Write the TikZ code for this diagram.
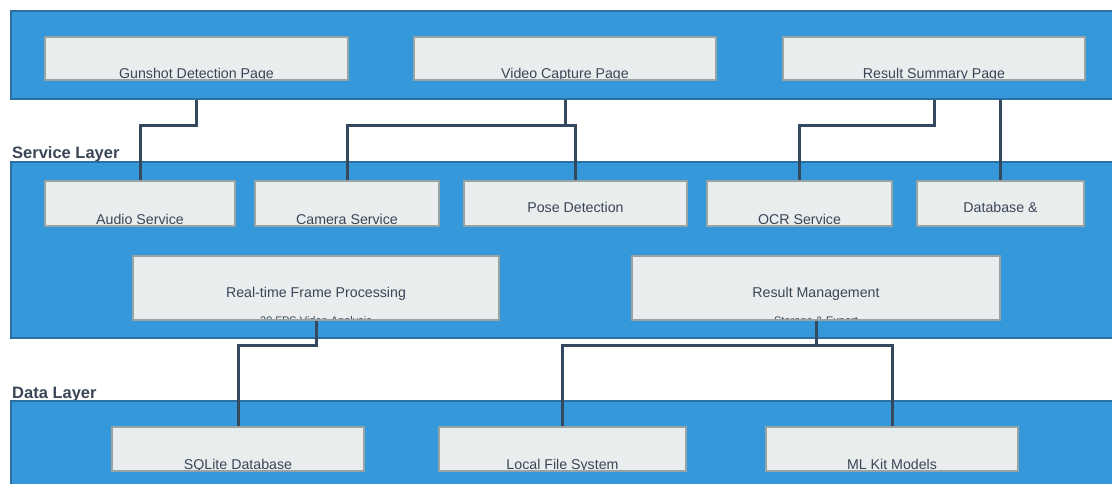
\documentclass[tikz,border=0pt]{standalone}
\usepackage{fontspec}
\setmainfont{Liberation Sans}
\usetikzlibrary{positioning}
\definecolor{layerblue}{HTML}{3498DB}
\definecolor{layeredge}{HTML}{2B6FA3}
\definecolor{boxfill}{HTML}{E9EDEE}
\definecolor{boxedge}{HTML}{98A3A6}
\definecolor{linkdark}{HTML}{34495E}
\definecolor{textdark}{HTML}{3A4657}
\tikzset{
    layer/.style={
        rectangle,
        draw=layeredge,
        fill=layerblue,
        line width=2.5pt,
        minimum width=1114pt,
        inner sep=0pt
    },
    layer_title/.style={
        font=\fontsize{16.5}{18}\selectfont\bfseries,
        text=textdark,
        anchor=base west,
        inner sep=0pt
    },
    comp_box/.style={
        rectangle,
        draw=boxedge,
        fill=boxfill,
        line width=1.8pt,
        inner sep=0pt
    },
    comp_label/.style 2 args={
        path picture={\node[font=\fontsize{14.2}{16}\selectfont, text=textdark, anchor=base]
            at ([yshift=#2]path picture bounding box.south) {#1};}
    },
    comp_label_sub/.style n args={3}{
        path picture={
            \node[font=\fontsize{14.2}{16}\selectfont, text=textdark, anchor=base]
                at ([yshift=23pt]path picture bounding box.south) {#1};
            \node[font=\fontsize{11}{12}\selectfont, text=textdark, anchor=base]
                at ([yshift=#3]path picture bounding box.south) {#2};}
    },
    link/.style={
        draw=linkdark,
        line width=3pt
    }
}

\begin{document}
\begin{tikzpicture}[x=1pt, y=-1pt]
\useasboundingbox (0,0) rectangle (1112,484);
\clip (0,0) rectangle (1112,484);

% Layer titles (the layers cover their descenders)
\node[layer_title] (servTitle) at (12,159) {Service Layer};
\node[layer_title] (dataTitle) at (12,398) {Data Layer};

% Layers
\node[layer, minimum height=88pt] (presLayer) at (568,55) {};
\node[layer, minimum height=176pt] (servLayer) at (568,250) {};
\node[layer, minimum height=100pt] (dataLayer) at (568,451) {};

% Pages
\node[comp_box, minimum width=303pt, minimum height=43pt,
  comp_label={Gunshot Detection Page}{1.5pt}] (gunPage) at (196.5,58.5) {};
\node[comp_box, minimum width=302pt, minimum height=43pt,
  comp_label={Video Capture Page}{1.5pt}] (videoPage) at (565,58.5) {};
\node[comp_box, minimum width=302pt, minimum height=43pt,
  comp_label={Result Summary Page}{1.5pt}] (sumPage) at (934,58.5) {};

% Services
\node[comp_box, minimum width=190pt, minimum height=45pt,
  comp_label={Audio Service}{1.5pt}] (audioSvc) at (140,203.5) {};
\node[comp_box, minimum width=184pt, minimum height=45pt,
  comp_label={Camera Service}{1.5pt}] (cameraSvc) at (347,203.5) {};
\node[comp_box, minimum width=223pt, minimum height=45pt,
  comp_label={Pose Detection}{14pt}] (poseSvc) at (575.5,203.5) {};
\node[comp_box, minimum width=185pt, minimum height=45pt,
  comp_label={OCR Service}{1.5pt}] (ocrSvc) at (799.5,203.5) {};
\node[comp_box, minimum width=167pt, minimum height=45pt,
  comp_label={Database \&}{14pt}] (dbSvc) at (1000.5,203.5) {};

% Processing
\node[comp_box, minimum width=366pt, minimum height=64pt,
  comp_label_sub={Real-time Frame Processing}{30 FPS Video Analysis}{-4pt}] (frameProc) at (316,288) {};
\node[comp_box, minimum width=368pt, minimum height=64pt,
  comp_label_sub={Result Management}{Storage \& Export}{-4pt}] (resultMgmt) at (816,288) {};

% Data stores
\node[comp_box, minimum width=252pt, minimum height=44pt,
  comp_label={SQLite Database}{1.5pt}] (sqliteDb) at (238,449) {};
\node[comp_box, minimum width=247pt, minimum height=44pt,
  comp_label={Local File System}{1.5pt}] (localFs) at (562.5,449) {};
\node[comp_box, minimum width=252pt, minimum height=44pt,
  comp_label={ML Kit Models}{1.5pt}] (mlModels) at (892,449) {};

% Links
\draw[link] (gunPage.south |- presLayer.south) -- ++(0,25) -| (audioSvc.north);
\draw[link] (videoPage.south |- presLayer.south) -- ++(0,25) -| (cameraSvc.north);
\draw[link] (videoPage.south |- presLayer.south) -- ++(0,25) -| (poseSvc.north);
\draw[link] (sumPage.south |- presLayer.south) -- ++(0,25) -| (ocrSvc.north);
\draw[link] (dbSvc.north |- presLayer.south) -- (dbSvc.north);
\draw[link] (frameProc.south) -- ++(0,25) -| (sqliteDb.north);
\draw[link] (resultMgmt.south) -- ++(0,25) -| (localFs.north);
\draw[link] (resultMgmt.south) -- ++(0,25) -| (mlModels.north);

\end{tikzpicture}
\end{document}
